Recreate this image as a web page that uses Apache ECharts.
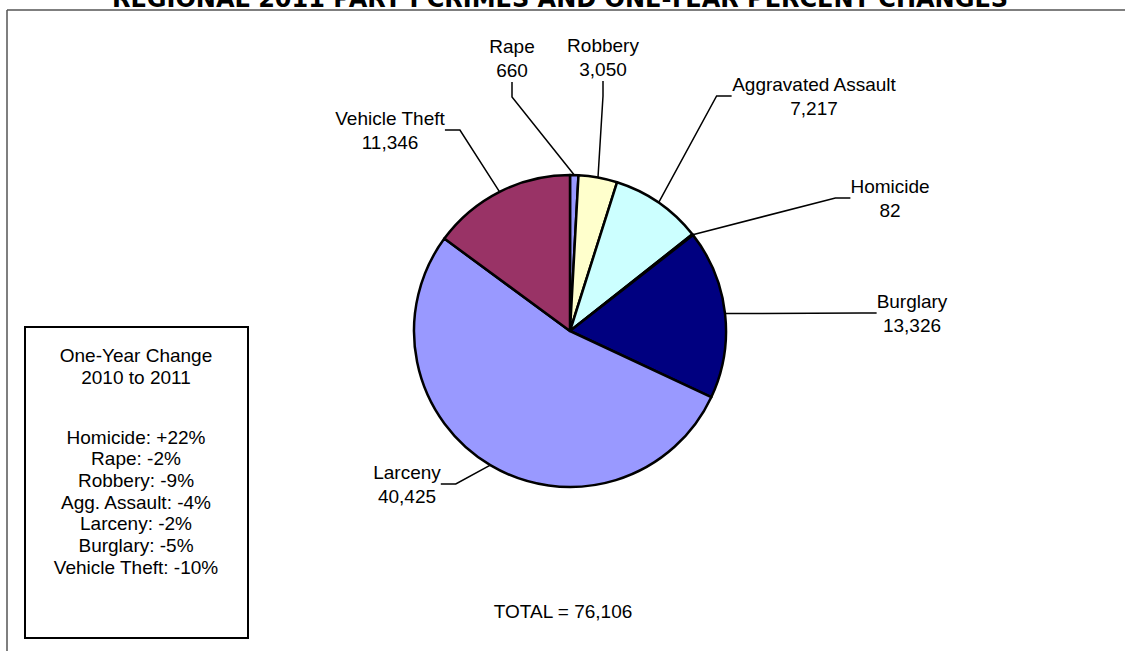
<!DOCTYPE html>
<html>
<head>
<meta charset="utf-8">
<script src="https://cdn.jsdelivr.net/npm/echarts@6/dist/echarts.min.js"></script>
<style>
html,body{margin:0;padding:0;background:#fff;}
#chart{width:1125px;height:651px;}
</style>
</head>
<body>
<div id="chart"></div>
<script>
// ---- data ----
var titleText = 'REGIONAL 2011 PART I CRIMES AND ONE-YEAR PERCENT CHANGES';
var categories = ['Rape', 'Robbery', 'Aggravated Assault', 'Homicide', 'Burglary', 'Larceny', 'Vehicle Theft'];
var counts = [660, 3050, 7217, 82, 13326, 40425, 11346];
var sliceColors = ['#9999FF', '#FFFFCC', '#CCFFFF', '#660066', '#000080', '#9999FF', '#993366'];
var changeHeader = ['One-Year Change', '2010 to 2011'];
var changeNames = ['Homicide', 'Rape', 'Robbery', 'Agg. Assault', 'Larceny', 'Burglary', 'Vehicle Theft'];
var changeValues = ['+22%', '-2%', '-9%', '-4%', '-2%', '-5%', '-10%'];
var totalLabel = 'TOTAL = ';

// ---- layout (label text centres) ----
var labelPos = [[512, 58], [603, 57], [814, 96], [890, 198], [912, 313], [407, 484], [390, 130]];

var FONT = '"Liberation Sans", Arial, sans-serif';
var total = counts.reduce(function (a, b) { return a + b; }, 0);
function fmt(n) { return n.toLocaleString('en-US'); }

var data = categories.map(function (c, i) {
  return { name: c, value: counts[i], itemStyle: { color: sliceColors[i] } };
});

var boxLines = [];
changeNames.forEach(function (n, i) { boxLines.push(n + ': ' + changeValues[i]); });
var boxTexts = [];
boxTexts.push({ type: 'text', x: 136, y: 355, style: { text: changeHeader[0], font: '19px ' + FONT, fill: '#000', align: 'center', verticalAlign: 'middle' } });
boxTexts.push({ type: 'text', x: 136, y: 377, style: { text: changeHeader[1], font: '19px ' + FONT, fill: '#000', align: 'center', verticalAlign: 'middle' } });
boxLines.forEach(function (t, i) {
  boxTexts.push({ type: 'text', x: 136, y: 437 + i * 21.7, style: { text: t, font: '19px ' + FONT, fill: '#000', align: 'center', verticalAlign: 'middle' } });
});

var chart = echarts.init(document.getElementById('chart'), null, { renderer: 'svg' });
chart.setOption({
  animation: false,
  backgroundColor: '#fff',
  graphic: [
    { type: 'line', shape: { x1: 7, y1: 10, x2: 1125, y2: 10 }, style: { stroke: '#555', lineWidth: 1.5 } },
    { type: 'line', shape: { x1: 7, y1: 10, x2: 7, y2: 651 }, style: { stroke: '#555', lineWidth: 1.5 } },
    { type: 'text', x: 560, y: -1, z: 10, style: { text: titleText, font: 'bold 24px "DejaVu Sans", Verdana, sans-serif', fill: '#000', align: 'center', verticalAlign: 'middle' } },
    { type: 'rect', shape: { x: 25, y: 327, width: 223, height: 311 }, style: { fill: '#fff', stroke: '#000', lineWidth: 2 } },
    { type: 'group', children: boxTexts },
    { type: 'text', x: 563, y: 611, style: { text: totalLabel + fmt(total), font: '19px ' + FONT, fill: '#000', align: 'center', verticalAlign: 'middle' } }
  ],
  series: [{
    type: 'pie',
    center: [570, 331],
    radius: [0, 156],
    startAngle: 90,
    clockwise: true,
    avoidLabelOverlap: false,
    data: data,
    itemStyle: { borderColor: '#000', borderWidth: 2.5 },
    label: {
      show: true,
      position: 'outside',
      color: '#000',
      fontFamily: FONT,
      fontSize: 19,
      lineHeight: 24,
      align: 'center',
      formatter: function (p) { return p.name + '\n' + fmt(p.value); }
    },
    labelLine: { show: true, length: 20, length2: 15, lineStyle: { color: '#000', width: 1.5 } },
    labelLayout: function (p) {
      var pos = labelPos[p.dataIndex];
      return { x: pos[0], y: pos[1], align: 'center', verticalAlign: 'middle' };
    },
    emphasis: { disabled: true }
  }]
});
</script>
</body>
</html>
